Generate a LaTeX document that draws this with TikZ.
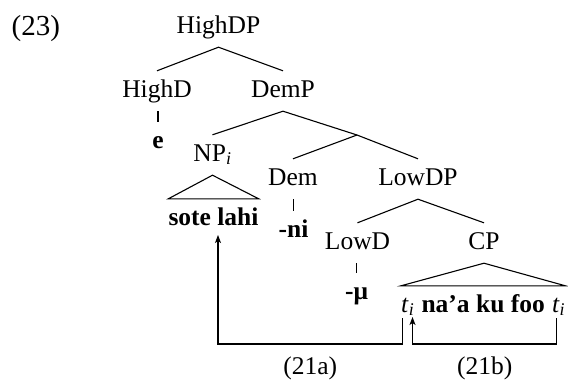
\documentclass[tikz,border=0pt]{standalone}
\usepackage{fontspec}
\setmainfont{Liberation Serif}
\usetikzlibrary{calc,arrows.meta}
\begin{document}
\begin{tikzpicture}[x=1pt,y=-1pt,
  lab/.style={font=\fontsize{25.5}{30}\selectfont, inner xsep=0pt, inner ysep=9pt,
    text height=17pt, text depth=5pt, anchor=base},
  br/.style={line width=1.1pt},
  mv/.style={line width=1.1pt, -{Stealth[length=8pt,width=6pt,inset=2pt]}}]
\useasboundingbox (0,0) rectangle (568,383);
% labels
\node[lab, anchor=base west, font=\fontsize{29}{34}\selectfont] (ex) at (11.5,35) {(23)};
\node[lab] (HighDP) at (218.5,33) {HighDP};
\node[lab] (HighD) at (157,97) {HighD};
\node[lab] (DemP) at (283,97) {DemP};
\node[lab] (e) at (158,148) {\textbf{e}};
\node[lab] (NP) at (212.5,161) {NP\textsubscript{\textit{i}}};
\coordinate (Dbar) at (357,135);
\node[lab] (Dem) at (293,185) {Dem};
\node[lab] (ni) at (293.5,237) {\textbf{-ni}};
\node[lab] (sote) at (213.5,225) {\textbf{sote lahi}};
\node[lab] (LowDP) at (418,185) {LowDP};
\node[lab] (LowD) at (357.5,249) {LowD};
\node[lab] (CP) at (484,249) {CP};
\node[lab] (mu) at (356.5,299) {\textbf{-μ}};
\node[lab, anchor=base west] (t1) at (401,312) {\textit{t}\textsubscript{\textit{i}}};
\node[lab, anchor=base west] (naa) at (t1.base east) {\kern0.27em\textbf{na’a ku foo}\kern0.27em};
\node[lab, anchor=base west] (t2) at (naa.base east) {\textit{t}\textsubscript{\textit{i}}};
% branches
\draw[br] (HighD.north) -- (HighDP.south) -- (DemP.north);
\draw[br] (NP.north) -- (DemP.south) -- (Dbar);
\draw[br] (Dem.north) -- (Dbar) -- (LowDP.north);
\draw[br] (LowD.north) -- (LowDP.south) -- (CP.north);
\draw[br] (e.north) -- (e.north |- HighD.south);
\draw[br] (ni.north) -- (ni.north |- Dem.south);
\draw[br] (mu.north) -- (mu.north |- LowD.south);
\draw[br] (NP.south) -- (sote.north west) -- (sote.north east) -- cycle;
\draw[br] (CP.south) -- (t1.north west) -- (t2.north east) -- cycle;
% movement arrows
\coordinate (bot) at (0,344);
\coordinate (a0) at ($(t1.base west)+(1.5,6)$);
\coordinate (a1) at ($(sote.base)+(4.5,10)$);
\coordinate (b0) at ($(t2.base west)+(5,6)$);
\coordinate (b1) at ($(t1.base west)+(11.5,5)$);
\draw[mv] (a0) -- (a0 |- bot) -| (a1);
\draw[mv] (b0) -- (b0 |- bot) -| (b1);
\node[lab] (la) at ($(a0 |- bot)!0.5!(a1 |- bot)+(0,30)$) {(21a)};
\node[lab] (lb) at ($(b0 |- bot)!0.5!(b1 |- bot)+(0,30)$) {(21b)};
\end{tikzpicture}
\end{document}
